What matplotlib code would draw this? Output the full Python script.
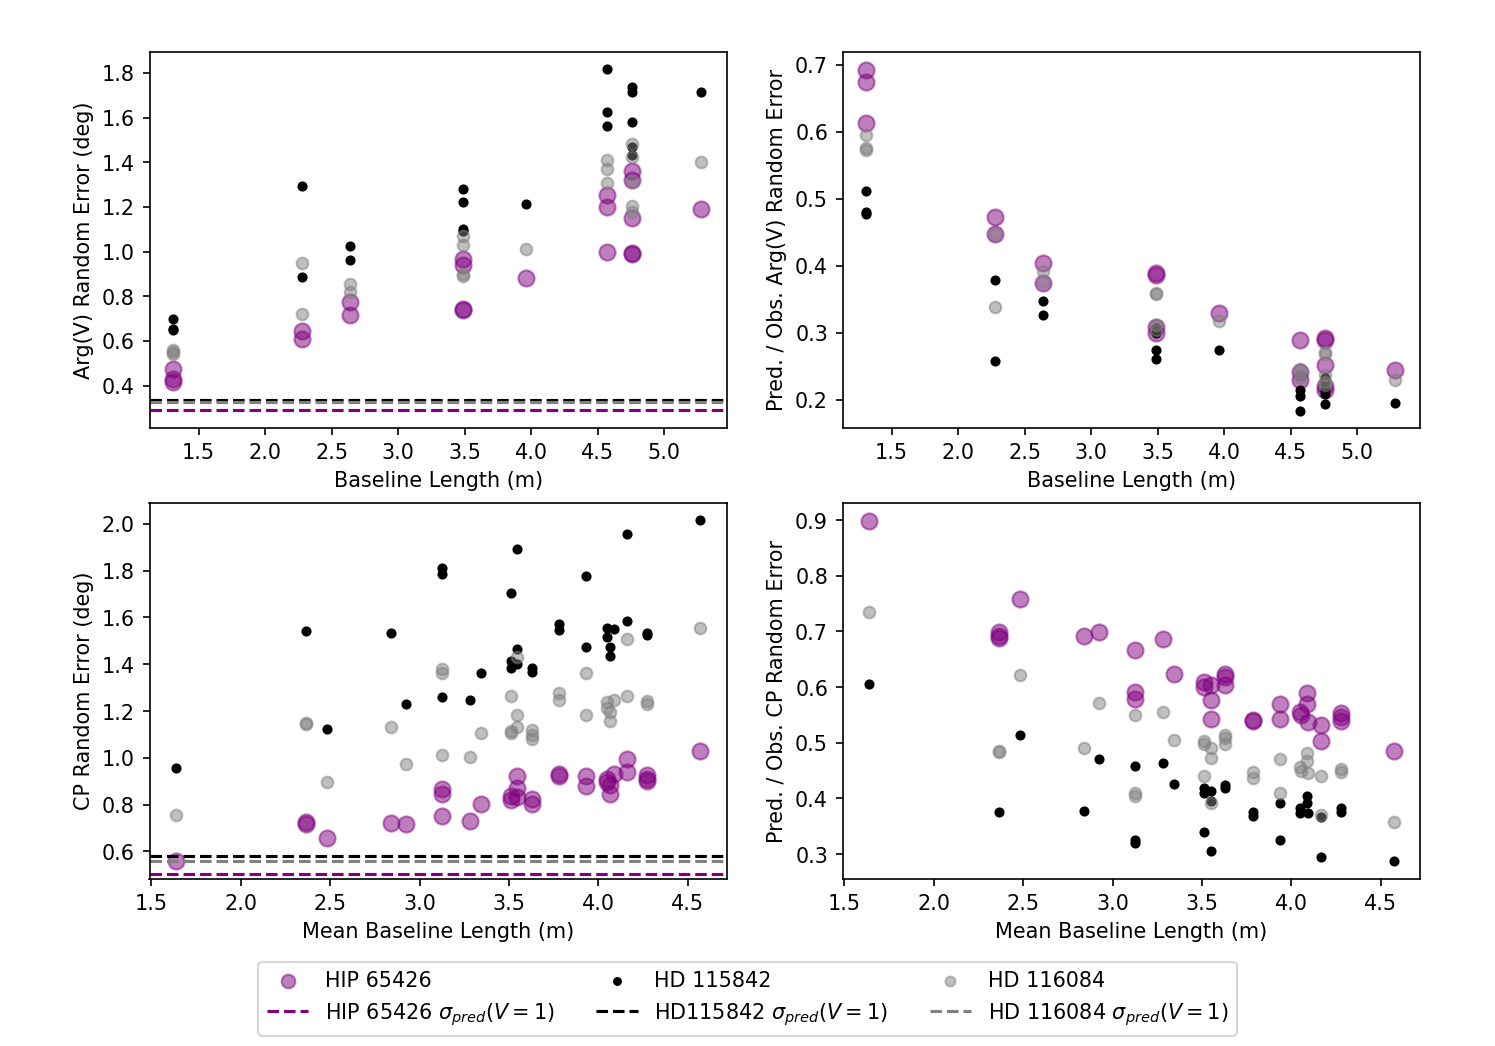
import matplotlib.pyplot as plt
import numpy as np

# --- top row: per-baseline errors ---
baseline = [1.31, 1.31, 1.31, 2.28, 2.28, 2.64, 2.64, 3.49, 3.49, 3.49, 3.49,
            3.96, 4.57, 4.57, 4.57, 4.76, 4.76, 4.76, 4.76, 4.76, 5.28]

argv_hip = [0.475, 0.43, 0.415, 0.645, 0.61, 0.775, 0.715, 0.965, 0.94, 0.745, 0.74,
            0.88, 1.255, 1.20, 1.00, 1.36, 1.32, 1.15, 0.995, 0.99, 1.19]
argv_842 = [0.70, 0.655, 0.65, 1.295, 0.885, 1.025, 0.96, 1.28, 1.22, 1.10, 1.09,
            1.215, 1.815, 1.625, 1.56, 1.735, 1.715, 1.58, 1.47, 1.43, 1.715]
argv_084 = [0.56, 0.55, 0.54, 0.95, 0.72, 0.855, 0.82, 1.07, 1.03, 0.90, 0.89,
            1.01, 1.41, 1.37, 1.305, 1.48, 1.425, 1.315, 1.205, 1.175, 1.40]

ratio_hip = [0.693, 0.674, 0.613, 0.473, 0.448, 0.404, 0.374, 0.389, 0.387, 0.309, 0.300,
             0.329, 0.289, 0.241, 0.230, 0.292, 0.29, 0.252, 0.22, 0.215, 0.244]
ratio_842 = [0.512, 0.48, 0.478, 0.379, 0.258, 0.348, 0.326, 0.307, 0.30, 0.274, 0.261,
             0.275, 0.215, 0.205, 0.184, 0.232, 0.225, 0.215, 0.208, 0.194, 0.195]
ratio_084 = [0.595, 0.576, 0.573, 0.447, 0.338, 0.393, 0.376, 0.360, 0.358, 0.312, 0.304,
             0.318, 0.246, 0.237, 0.232, 0.272, 0.268, 0.237, 0.227, 0.222, 0.229]

# --- bottom row: closure phases vs mean baseline ---
cp_x_hip = [1.64, 2.365, 2.365, 2.483, 2.842, 2.922, 3.126, 3.126, 3.126, 3.283, 3.345,
            3.51, 3.51, 3.547, 3.547, 3.547, 3.627, 3.627, 3.782, 3.782, 3.933, 3.933,
            4.05, 4.05, 4.085, 4.067, 4.067, 4.162, 4.162, 4.273, 4.273, 4.273, 4.57]
cp_hip = [0.557, 0.725, 0.718, 0.659, 0.723, 0.716, 0.868, 0.847, 0.75, 0.728, 0.802,
          0.835, 0.818, 0.924, 0.873, 0.833, 0.825, 0.804, 0.93, 0.924, 0.924, 0.878,
          0.911, 0.897, 0.93, 0.883, 0.847, 0.994, 0.94, 0.925, 0.911, 0.901, 1.029]

cp_x_842 = [1.639, 2.365, 2.483, 2.842, 2.922, 3.126, 3.126, 3.126, 3.283, 3.345,
            3.51, 3.547, 3.51, 3.51, 3.547, 3.547, 3.627, 3.627, 3.782, 3.782,
            3.933, 3.933, 4.05, 4.085, 4.05, 4.067, 4.067, 4.162, 4.162, 4.273, 4.273, 4.57]
cp_842 = [0.957, 1.542, 1.122, 1.532, 1.231, 1.81, 1.786, 1.262, 1.248, 1.362,
          1.706, 1.891, 1.413, 1.385, 1.463, 1.401, 1.385, 1.368, 1.573, 1.546,
          1.776, 1.475, 1.555, 1.55, 1.517, 1.475, 1.436, 1.956, 1.585, 1.535, 1.525, 2.017]

cp_x_084 = [1.639, 2.365, 2.365, 2.483, 2.842, 2.922, 3.126, 3.126, 3.126, 3.283, 3.345,
            3.51, 3.547, 3.547, 3.547, 3.51, 3.51, 3.627, 3.627, 3.627, 3.782, 3.782,
            3.933, 3.933, 4.05, 4.085, 4.05, 4.067, 4.067, 4.162, 4.162, 4.273, 4.273, 4.57]
cp_084 = [0.757, 1.149, 1.144, 0.897, 1.132, 0.975, 1.378, 1.361, 1.014, 1.004, 1.104,
          1.265, 1.429, 1.181, 1.132, 1.115, 1.108, 1.118, 1.097, 1.082, 1.275, 1.246,
          1.361, 1.182, 1.239, 1.246, 1.215, 1.194, 1.158, 1.506, 1.265, 1.242, 1.232, 1.553]

cr_x_hip = [1.64, 2.364, 2.364, 2.364, 2.483, 2.841, 2.924, 3.126, 3.126, 3.126, 3.283, 3.345,
            3.51, 3.51, 3.548, 3.548, 3.548, 3.63, 3.63, 3.63, 3.785, 3.785, 3.934, 3.934,
            4.085, 4.085, 4.05, 4.055, 4.09, 4.163, 4.163, 4.275, 4.275, 4.275, 4.572]
cr_hip = [0.898, 0.698, 0.692, 0.688, 0.759, 0.691, 0.698, 0.667, 0.591, 0.578, 0.686, 0.624,
          0.609, 0.600, 0.603, 0.576, 0.542, 0.624, 0.618, 0.604, 0.541, 0.539, 0.570, 0.542,
          0.590, 0.569, 0.555, 0.549, 0.537, 0.531, 0.503, 0.554, 0.546, 0.539, 0.486]

cr_x_084 = [1.64, 2.364, 2.364, 2.483, 2.841, 2.924, 3.126, 3.126, 3.126, 3.283, 3.345,
            3.51, 3.51, 3.548, 3.548, 3.548, 3.51, 3.63, 3.63, 3.63, 3.785, 3.785,
            3.934, 3.934, 4.085, 4.085, 4.05, 4.055, 4.09, 4.163, 4.163, 4.275, 4.275, 4.572]
cr_084 = [0.735, 0.486, 0.483, 0.621, 0.491, 0.571, 0.549, 0.409, 0.404, 0.555, 0.505,
          0.503, 0.498, 0.491, 0.473, 0.392, 0.440, 0.514, 0.509, 0.498, 0.447, 0.437,
          0.471, 0.410, 0.482, 0.467, 0.456, 0.450, 0.446, 0.440, 0.370, 0.452, 0.447, 0.358]

cr_x_842 = [1.64, 2.364, 2.483, 2.841, 2.924, 3.126, 3.126, 3.126, 3.283, 3.345,
            3.51, 3.51, 3.548, 3.548, 3.51, 3.548, 3.63, 3.63, 3.785, 3.785, 3.934, 3.934,
            4.085, 4.085, 4.05, 4.05, 4.09, 4.163, 4.163, 4.275, 4.275, 4.572]
cr_842 = [0.605, 0.375, 0.514, 0.378, 0.470, 0.458, 0.325, 0.319, 0.464, 0.425,
          0.419, 0.410, 0.413, 0.395, 0.339, 0.306, 0.424, 0.418, 0.376, 0.368, 0.392, 0.326,
          0.404, 0.392, 0.382, 0.373, 0.373, 0.366, 0.295, 0.382, 0.376, 0.287]

# predicted errors at V=1 (deg)
argv_pred = {'hip': 0.291, '842': 0.335, '084': 0.325}
cp_pred = {'hip': 0.5015, '842': 0.579, '084': 0.557}

fig, axes = plt.subplots(2, 2, figsize=(10, 7))
plt.subplots_adjust(left=0.1, right=0.95, top=0.95, bottom=0.16, wspace=0.2, hspace=0.2)

hip_kw = dict(c='purple', alpha=0.5, s=60)
k_kw = dict(c='k', s=15)
g_kw = dict(c='gray', alpha=0.5, s=32)

ax = axes[0, 0]
ax.scatter(baseline, argv_hip, **hip_kw)
ax.scatter(baseline, argv_842, **k_kw)
ax.scatter(baseline, argv_084, **g_kw)
ax.axhline(argv_pred['hip'], color='purple', ls='--')
ax.axhline(argv_pred['842'], color='k', ls='--')
ax.axhline(argv_pred['084'], color='gray', ls='--')
ax.set_xlim(1.131, 5.473)
ax.set_ylim(0.212, 1.894)
ax.set_xlabel('Baseline Length (m)')
ax.set_ylabel('Arg(V) Random Error (deg)')

ax = axes[0, 1]
ax.scatter(baseline, ratio_hip, **hip_kw)
ax.scatter(baseline, ratio_842, **k_kw)
ax.scatter(baseline, ratio_084, **g_kw)
ax.set_xlim(1.131, 5.473)
ax.set_ylim(0.1585, 0.7195)
ax.set_xlabel('Baseline Length (m)')
ax.set_ylabel('Pred. / Obs. Arg(V) Random Error')

ax = axes[1, 0]
s1 = ax.scatter(cp_x_hip, cp_hip, label='HIP 65426', **hip_kw)
s2 = ax.scatter(cp_x_842, cp_842, label='HD 115842', **k_kw)
s3 = ax.scatter(cp_x_084, cp_084, label='HD 116084', **g_kw)
l1 = ax.axhline(cp_pred['hip'], color='purple', ls='--', label=r'HIP 65426 $\sigma_{pred}(V=1)$')
l2 = ax.axhline(cp_pred['842'], color='k', ls='--', label=r'HD115842 $\sigma_{pred}(V=1)$')
l3 = ax.axhline(cp_pred['084'], color='gray', ls='--', label=r'HD 116084 $\sigma_{pred}(V=1)$')
ax.set_xlim(1.49, 4.72)
ax.set_ylim(0.484, 2.09)
ax.set_xlabel('Mean Baseline Length (m)')
ax.set_ylabel('CP Random Error (deg)')

ax = axes[1, 1]
ax.scatter(cr_x_hip, cr_hip, **hip_kw)
ax.scatter(cr_x_842, cr_842, **k_kw)
ax.scatter(cr_x_084, cr_084, **g_kw)
ax.set_xlim(1.49, 4.72)
ax.set_ylim(0.256, 0.931)
ax.set_xlabel('Mean Baseline Length (m)')
ax.set_ylabel('Pred. / Obs. CP Random Error')

fig.legend(handles=[s1, l1, s2, l2, s3, l3], loc='lower center',
           bbox_to_anchor=(0.5, 0.0), ncol=3, markerscale=0.85)

fig.savefig('out.png', dpi=149.5)
